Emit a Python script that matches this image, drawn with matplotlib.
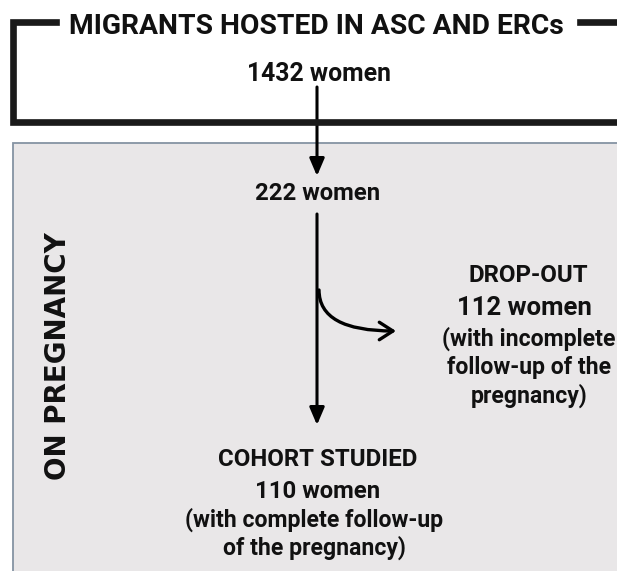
import matplotlib
matplotlib.use("Agg")
import matplotlib.pyplot as plt
from matplotlib.patches import Rectangle, FancyArrowPatch

# ---- data ----
header = "MIGRANTS HOSTED IN ASC AND ERCs"
side_label = "ON PREGNANCY"
counts = [1432, 222, 112, 110]
unit = "women"
dropout_title = "DROP-OUT"
dropout_note = ["(with incomplete", "follow-up of the", "pregnancy)"]
cohort_title = "COHORT STUDIED"
cohort_note = ["(with complete follow-up", "of the pregnancy)"]

W, H = 617, 571
fig = plt.figure(figsize=(W / 100, H / 100), dpi=100)
ax = fig.add_axes([0, 0, 1, 1])
ax.set_xlim(0, W)
ax.set_ylim(H, 0)
ax.axis("off")

FONT = ["Roboto", "DejaVu Sans"]
txt = dict(family=FONT, weight="bold", color="#111111", ha="center", va="center")

# gray panel
ax.add_patch(Rectangle((13, 143), W, H, facecolor="#e9e7e8", edgecolor="#8593a3", lw=1.3, zorder=0))

# top bracket
lw_b = 4.8
ax.plot([56, 12.7, 12.7, W + 5], [21.7, 21.7, 121.5, 121.5], color="#1a1a1a", lw=lw_b,
        solid_joinstyle="miter", zorder=2)
ax.plot([580, W + 5], [21.7, 21.7], color="#1a1a1a", lw=lw_b, zorder=2)
ax.text(316.5, 26, header, fontsize=20.3, **txt)

cx = 317
ax.text(cx + 2, 74, f"{counts[0]} {unit}", fontsize=17.8, **txt)
ax.text(cx + 1, 193, f"{counts[1]} {unit}", fontsize=17.2, **txt)

arrow_kw = dict(arrowstyle="-|>,head_length=0.75,head_width=0.32", color="black", lw=2.2, mutation_scale=14)
ax.add_patch(FancyArrowPatch((cx, 87), (cx, 176), shrinkA=0, shrinkB=0, **arrow_kw))
ax.add_patch(FancyArrowPatch((cx, 214), (cx, 425), shrinkA=0, shrinkB=0, **arrow_kw))

# curved drop-out arrow
ax.add_patch(FancyArrowPatch((cx + 2, 290), (396, 331), shrinkA=0, shrinkB=0,
                             connectionstyle="angle3,angleA=90,angleB=0",
                             arrowstyle="->,head_length=0.7,head_width=0.45",
                             color="black", lw=2.4, mutation_scale=14))

# drop-out
dx = 528
ax.text(dx, 276, dropout_title, fontsize=17.3, **txt)
ax.text(dx - 4, 308, f"{counts[2]} {unit}", fontsize=18.5, **txt)
for i, line in enumerate(dropout_note):
    ax.text(dx + 1, 339 + 28.5 * i, line, fontsize=16.6, **txt)

# cohort
ax.text(cx + 1, 459, cohort_title, fontsize=17.3, **txt)
ax.text(cx + 1, 491, f"{counts[3]} {unit}", fontsize=17.2, **txt)
for i, line in enumerate(cohort_note):
    ax.text(cx - 3, 520 + 27.5 * i, line, fontsize=16.6, **txt)

# side label
ax.text(58, 356, side_label, fontsize=20, family="DejaVu Sans", weight="bold",
        color="#111111", rotation=90, ha="center", va="center")

fig.savefig("out.png", dpi=100)
